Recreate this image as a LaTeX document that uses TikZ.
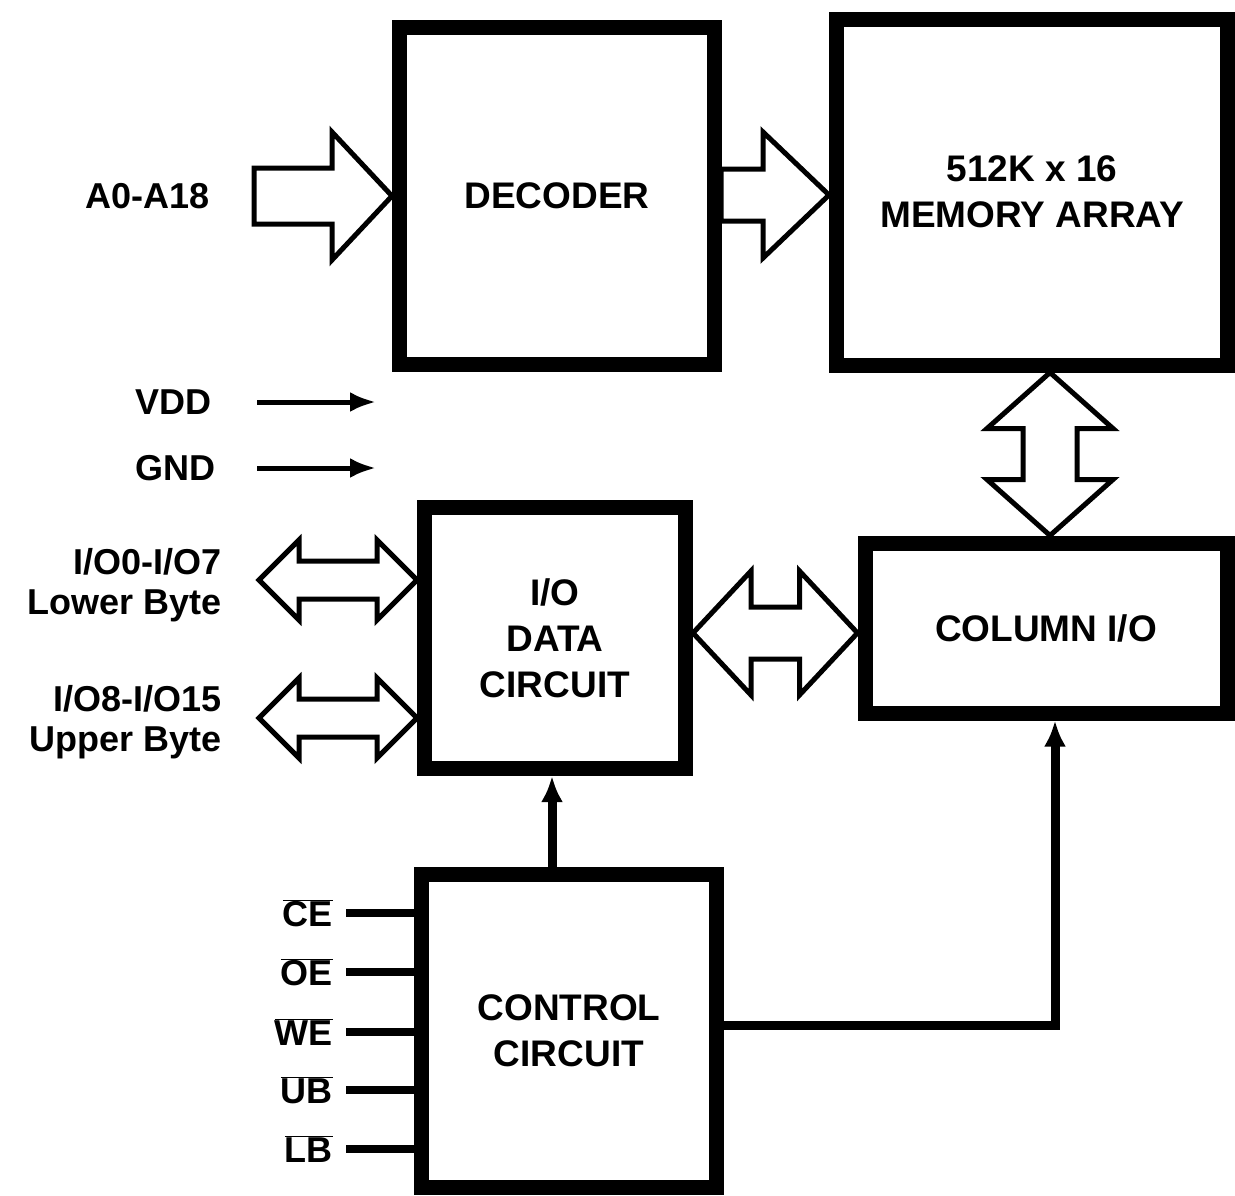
\documentclass[tikz,border=0pt]{standalone}
\usepackage{fontspec}
\setmainfont{Liberation Sans}
\usetikzlibrary{arrows.meta,calc}
\newcommand{\ovl}[1]{\ensuremath{\overline{\mbox{#1}}}}
% single right block arrow: tip, total length, head length, head half, shaft half
\newcommand{\rblockarrow}[5]{%
  \draw[barrow] (#1) -- ++(-#3,-#4) -- ++(0,#4-#5) -- ++(#3-#2,0) -- ++(0,2*#5)
    -- ++(#2-#3,0) -- ++(0,#4-#5) -- cycle;}
% horizontal double block arrow: left tip, right tip, head length, head half, shaft half
\newcommand{\hdarrow}[5]{%
  \draw[barrow] (#1) -- ($(#1)+(#3,-#4)$) -- ($(#1)+(#3,-#5)$) -- ($(#2)+(-#3,-#5)$)
    -- ($(#2)+(-#3,-#4)$) -- (#2) -- ($(#2)+(-#3,#4)$) -- ($(#2)+(-#3,#5)$)
    -- ($(#1)+(#3,#5)$) -- ($(#1)+(#3,#4)$) -- cycle;}
% vertical double block arrow: top tip, bottom tip, head length, head half, shaft half
\newcommand{\vdarrow}[5]{%
  \draw[barrow] (#1) -- ($(#1)+(#4,#3)$) -- ($(#1)+(#5,#3)$) -- ($(#2)+(#5,-#3)$)
    -- ($(#2)+(#4,-#3)$) -- (#2) -- ($(#2)+(-#4,-#3)$) -- ($(#2)+(-#5,-#3)$)
    -- ($(#1)+(-#5,#3)$) -- ($(#1)+(-#4,#3)$) -- cycle;}
\begin{document}
\begin{tikzpicture}[x=1pt,y=-1pt,
  txt/.style={font=\fontsize{37}{46}\selectfont\bfseries, inner sep=0pt, align=center},
  blk/.style={draw, line width=15pt, txt},
  lbl/.style={font=\fontsize{36}{40}\selectfont\bfseries, inner sep=0pt, align=right, anchor=east},
  barrow/.style={line width=5pt, line join=miter, fill=white},
  sig/.style={line width=8pt},
  sarrow/.style={line width=9pt, -{Latex[length=26pt,width=22pt]}},
  parrow/.style={line width=5pt, -{Latex[length=26pt,width=20pt]}}]
\useasboundingbox (0,0) rectangle (1235,1195);
\fill[white] (0,0) rectangle (1235,1195);

% blocks
\node[blk, minimum width=315pt, minimum height=337pt] (dec) at (557,196) {DECODER};
\node[blk, minimum width=391pt, minimum height=346pt] (mem) at (1032,192) {512K x 16\\MEMORY ARRAY};
\node[blk, minimum width=261pt, minimum height=261pt] (io) at (555,638) {I/O\\DATA\\CIRCUIT};
\node[blk, minimum width=362pt, minimum height=170pt] (col) at (1046,628) {COLUMN I/O};
\node[blk, minimum width=295pt, minimum height=313pt] (ctl) at (569,1031) {CONTROL\\CIRCUIT};

% address input
\node[lbl] (addr) at (210,196) {A0-A18};
\rblockarrow{dec.west}{138}{60}{64}{28}
% decoder to memory
\rblockarrow{mem.west |- 0,195}{108}{66}{63}{26}

% power
\node[lbl] (vdd) at (212,402) {VDD};
\node[lbl] (gnd) at (216,468) {GND};
\coordinate (vddend) at (376,402);
\coordinate (gndend) at (376,468);
\draw[parrow] ([xshift=45pt]vdd.east) -- (vddend);
\draw[parrow] ([xshift=41pt]gnd.east) -- (gndend);

% data byte labels and arrows
\node[lbl] (lo) at (222,585) {I/O0-I/O7\\Lower Byte};
\node[lbl] (up) at (222,722) {I/O8-I/O15\\Upper Byte};
\coordinate (l1) at (259,580);
\coordinate (l2) at (259,718);
\hdarrow{l1}{l1 -| io.west}{40}{40}{19}
\hdarrow{l2}{l2 -| io.west}{40}{40}{19}

% io data <-> column io
\coordinate (mid) at (0,633);
\hdarrow{io.east |- mid}{col.west |- mid}{58}{62}{26}

% memory <-> column io
\coordinate (vx) at (1050,0);
\vdarrow{mem.south -| vx}{col.north -| vx}{56}{63}{27}

% control to io data
\coordinate (ax) at (552,0);
\draw[sarrow] (ctl.north -| ax) -- (io.south -| ax);
% control to column io
\coordinate (cy) at (0,1025);
\coordinate (cx) at (1055,0);
\draw[sarrow] (ctl.east |- cy) -| (col.south -| cx);

% control inputs
\node[lbl] (ce) at (333,913) {\ovl{CE}};
\node[lbl] (oe) at (333,972) {\ovl{OE}};
\node[lbl] (we) at (333,1032) {\ovl{WE}};
\node[lbl] (ub) at (333,1090) {\ovl{UB}};
\node[lbl] (lb) at (333,1149) {\ovl{LB}};
\foreach \s in {ce,oe,we,ub,lb}
  \draw[sig] ([xshift=13pt]\s.east) -- (\s.east -| ctl.west);
\end{tikzpicture}
\end{document}
